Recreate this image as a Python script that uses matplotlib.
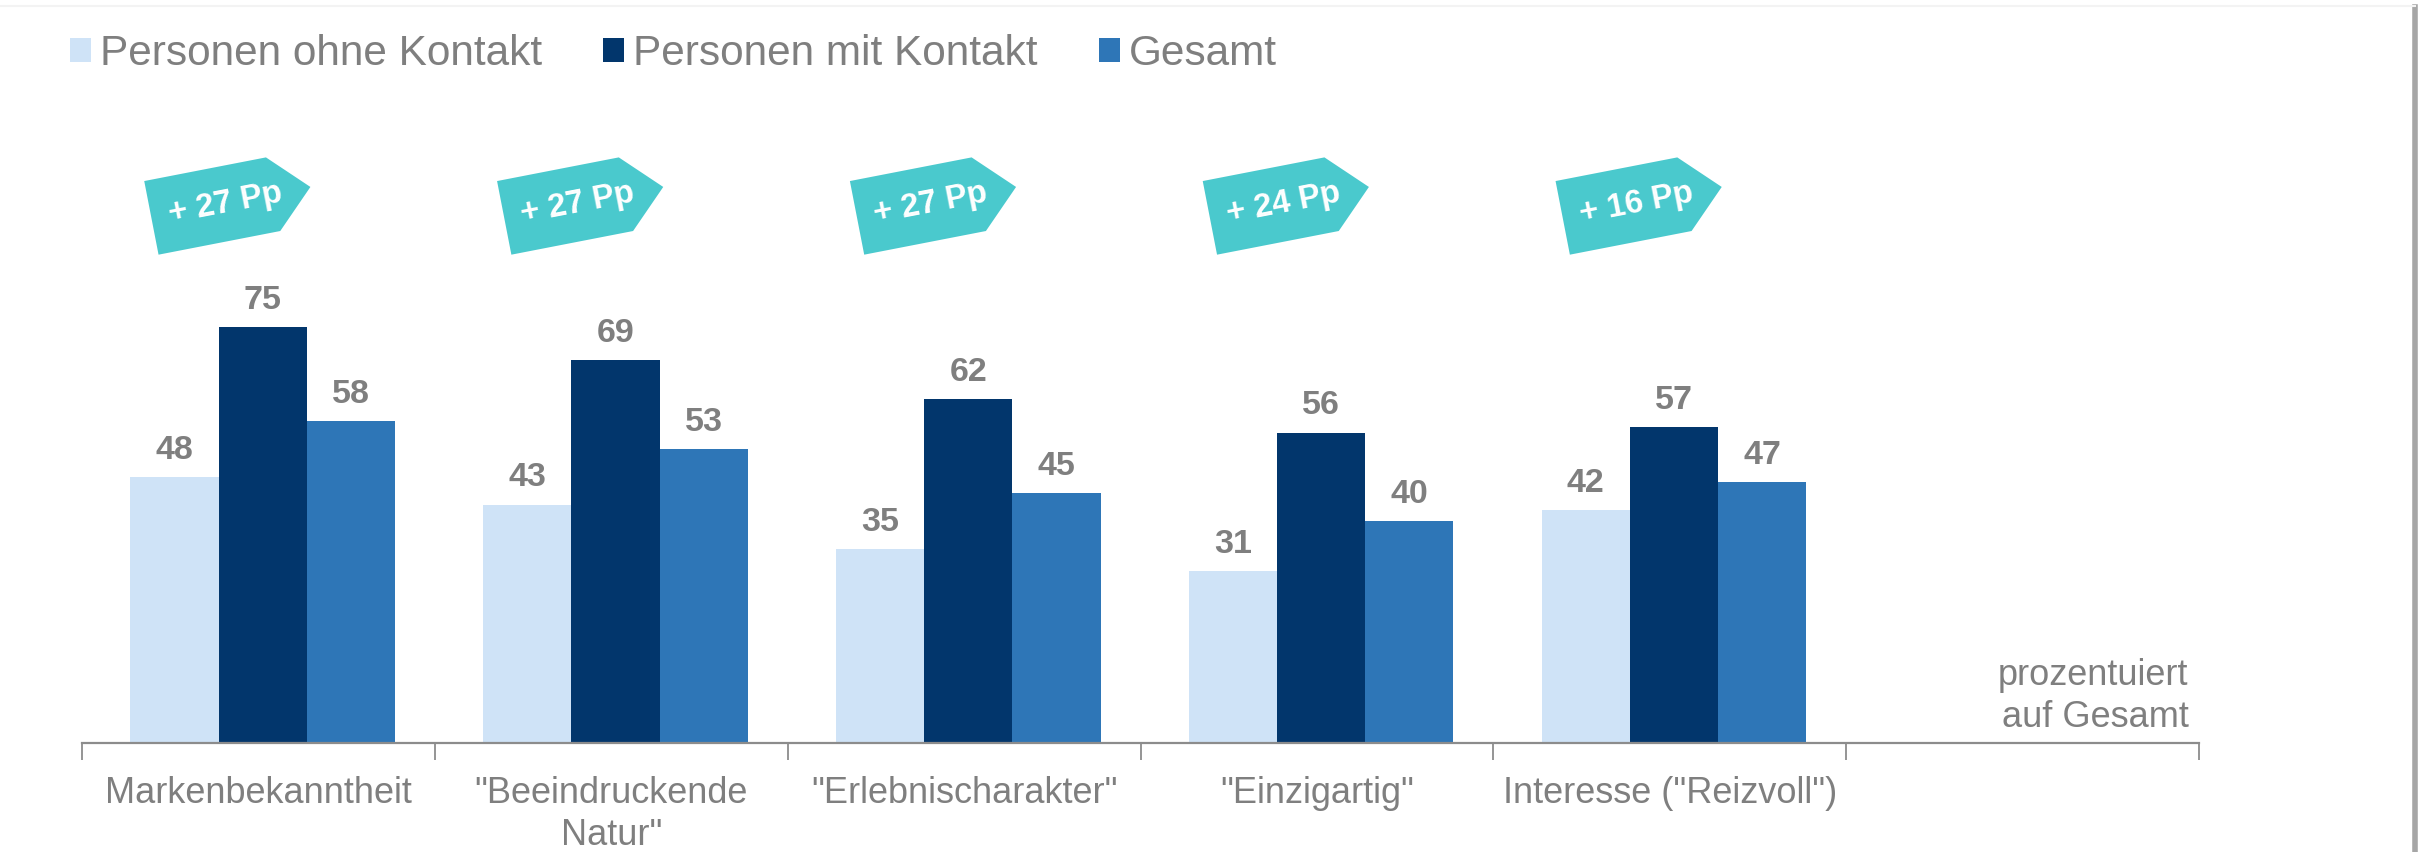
import numpy as np
import matplotlib
matplotlib.use("Agg")
import matplotlib.pyplot as plt
import matplotlib.transforms as mtransforms
from matplotlib.patches import Polygon
from matplotlib.lines import Line2D

plt.rcParams['font.family'] = ['Liberation Sans', 'DejaVu Sans']

# data
categories = ['Markenbekanntheit', '"Beeindruckende\nNatur"', '"Erlebnischarakter"',
              '"Einzigartig"', 'Interesse ("Reizvoll")', '']
ohne = [48, 43, 35, 31, 42]
mit = [75, 69, 62, 56, 57]
gesamt = [58, 53, 45, 40, 47]
diff_labels = ['+ 27 Pp', '+ 27 Pp', '+ 27 Pp', '+ 24 Pp', '+ 16 Pp']
series_names = ['Personen ohne Kontakt', 'Personen mit Kontakt', 'Gesamt']
note = 'prozentuiert\nauf Gesamt'

c_light = '#CFE3F7'
c_dark = '#02366C'
c_mid = '#2E76B7'
c_tag = '#4AC9CD'
grey = '#7F7F7F'

W, H = 2433, 852
fig = plt.figure(figsize=(W / 100, H / 100), dpi=100)
ax = fig.add_axes([82 / W, (H - 743) / H, (2199 - 82) / W, 728 / H])

x = np.arange(len(ohne)) + 0.012
bw = 0.25
b1 = ax.bar(x - bw, ohne, bw, color=c_light, label=series_names[0])
b2 = ax.bar(x, mit, bw, color=c_dark, label=series_names[1])
b3 = ax.bar(x + bw, gesamt, bw, color=c_mid, label=series_names[2])
for b in (b1, b2, b3):
    ax.bar_label(b, padding=8, fontsize=24.5, fontweight='bold', color=grey)

ax.set_xlim(-0.5, len(categories) - 0.5)
ax.set_ylim(0, 131.3)

# clean up
for s in ['top', 'right', 'left']:
    ax.spines[s].set_visible(False)
ax.spines['bottom'].set_color('#8C8C8C')
ax.spines['bottom'].set_linewidth(1.6)
ax.set_yticks([])
ax.set_xticks(np.arange(len(categories)))
ax.set_xticklabels(categories, fontsize=26, color=grey, linespacing=1.25)
ax.tick_params(axis='x', which='major', length=0, pad=24)
ax.set_xticks(np.arange(len(categories) + 1) - 0.5, minor=True)
ax.tick_params(axis='x', which='minor', length=12, width=1.3, color='#8C8C8C')

# tag arrows with the differences
L, t, h = 162, 38, 75
verts = [(-L / 2, -h / 2), (L / 2 - t, -h / 2), (L / 2, 0), (L / 2 - t, h / 2), (-L / 2, h / 2)]
ang = 11
for i, lab in enumerate(diff_labels):
    xc, yc = x[i] - 0.09, 97.5
    tr = mtransforms.Affine2D().rotate_deg(ang) + mtransforms.ScaledTranslation(xc, yc, ax.transData)
    ax.add_patch(Polygon(verts, closed=True, facecolor=c_tag, edgecolor='none', transform=tr, clip_on=False))
    ax.annotate(lab, (xc, yc), xytext=(-6 * np.cos(np.radians(ang)), -6 * np.sin(np.radians(ang))),
                textcoords='offset pixels', rotation=ang, rotation_mode='anchor',
                ha='center', va='center', fontsize=23.5, fontweight='bold', color='white',
                family='Liberation Sans')

ax.text(5.47, 1.5, note, ha='right', va='bottom', fontsize=26, color=grey, linespacing=1.25)

fig.legend(handles=[b1, b2, b3], loc='center left', bbox_to_anchor=(70 / W, 1 - 54 / H),
           ncol=3, frameon=False, fontsize=30.5, labelcolor=grey,
           handlelength=0.5, handleheight=0.5, handletextpad=0.2, columnspacing=1.45,
           borderpad=0, borderaxespad=0)

# slide frame on the right
fig.add_artist(Line2D([2415 / W, 2415 / W], [0, 1 - 7 / H], color='#A6A6A6', lw=4, transform=fig.transFigure))
fig.add_artist(Line2D([0, 2415 / W], [1 - 6 / H, 1 - 6 / H], color='#F3F3F3', lw=1.5, transform=fig.transFigure))

plt.savefig('out.png', dpi=100)
